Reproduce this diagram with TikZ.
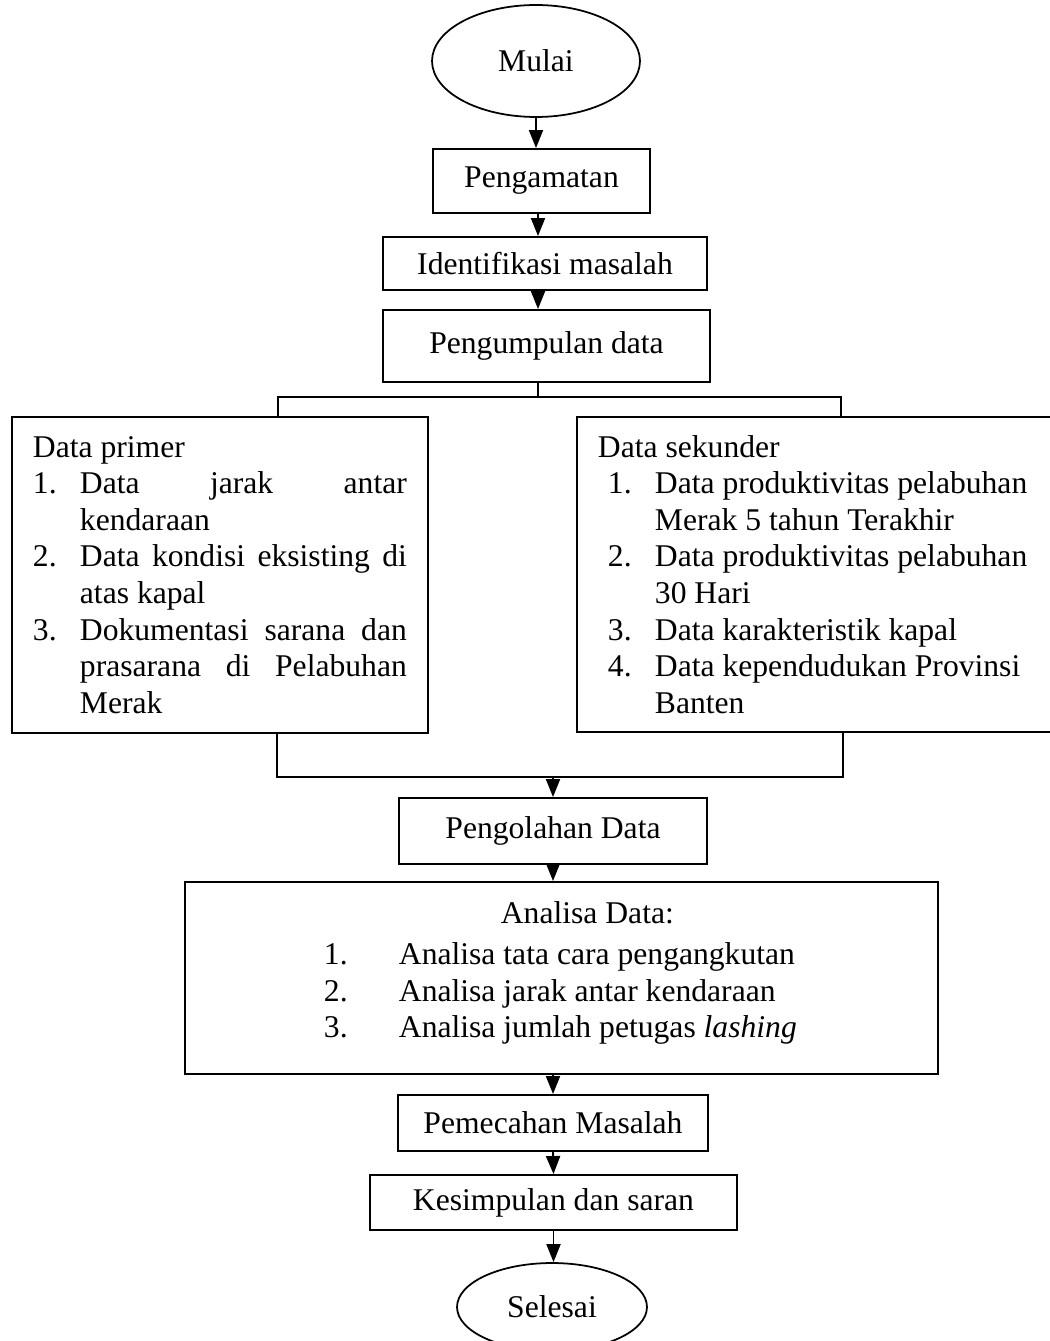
\documentclass[tikz,border=0pt]{standalone}
\usepackage{fontspec}
\setmainfont{Liberation Serif}
\usetikzlibrary{shapes.geometric,arrows.meta}

\begin{document}
\begin{tikzpicture}[x=0.02cm,y=-0.02cm,
  every node/.style={font=\fontsize{18pt}{20.8pt}\selectfont, inner sep=0pt},
  box/.style={draw, line width=1.1pt, rectangle},
  oval/.style={draw, line width=1pt, ellipse},
  link/.style={line width=1.1pt},
  flow/.style={line width=1.1pt, -{Triangle[length=0.36cm,width=0.28cm]}}]
\useasboundingbox (0,0) rectangle (1049,1341);
% upper chain
\node[oval, minimum width=4.16cm, minimum height=2.24cm] (mulai) at (536,61) {Mulai};
\node[box, minimum width=4.34cm, minimum height=1.28cm] (amat) at (541.5,181) {Pengamatan};
\node[box, minimum width=6.48cm, minimum height=1.06cm] (ident) at (545,263.5) {Identifikasi masalah};
\node[box, minimum width=6.54cm, minimum height=1.44cm] (kumpul) at (546.5,346) {Pengumpulan data};
\coordinate (split) at (538,397);
\draw[flow] (mulai.south) -- (mulai.south |- amat.north);
\draw[flow] (amat.south -| split) -- (ident.north -| split);
\draw[flow] (ident.south -| split) -- (kumpul.north -| split);
% data boxes
\node[box, anchor=north west, minimum height=6.32cm, text width=7.48cm, inner xsep=0.42cm] (primer) at (11,416) {\spaceskip=0pt\xspaceskip=0pt Data primer\\
\makebox[0.94cm][l]{1.}\makebox[6.54cm][s]{Data\hfill jarak\hfill antar}\\
\hspace*{0.94cm}kendaraan\\
\makebox[0.94cm][l]{2.}\makebox[6.54cm][s]{Data kondisi eksisting di}\\
\hspace*{0.94cm}atas kapal\\
\makebox[0.94cm][l]{3.}\makebox[6.54cm][s]{Dokumentasi sarana dan}\\
\hspace*{0.94cm}\makebox[6.54cm][s]{prasarana di Pelabuhan}\\
\hspace*{0.94cm}Merak};
\node[box, anchor=north west, minimum height=6.3cm, text width=9.16cm, inner xsep=0.42cm] (sekunder) at (576,416) {\spaceskip=0pt\xspaceskip=0pt Data sekunder\\
\hspace*{0.2cm}\makebox[0.94cm][l]{1.}Data produktivitas pelabuhan\\
\hspace*{1.14cm}Merak 5 tahun Terakhir\\
\hspace*{0.2cm}\makebox[0.94cm][l]{2.}Data produktivitas pelabuhan\\
\hspace*{1.14cm}30 Hari\\
\hspace*{0.2cm}\makebox[0.94cm][l]{3.}Data karakteristik kapal\\
\hspace*{0.2cm}\makebox[0.94cm][l]{4.}Data kependudukan Provinsi\\
\hspace*{1.14cm}Banten};
\coordinate (tl) at (278,397);
\coordinate (tr) at (841,397);
\draw[link] (kumpul.south -| split) -- (split);
\draw[link] (tl |- primer.north) -- (tl) -- (tr) -- (tr |- sekunder.north);
\coordinate (bl) at (277,777);
\coordinate (br) at (843,777);
\draw[link] (bl |- primer.south) -- (bl) -- (br) -- (br |- sekunder.south);
% lower chain
\node[box, minimum width=6.16cm, minimum height=1.32cm] (olah) at (553,831) {Pengolahan Data};
\draw[flow] (olah.north |- bl) -- (olah.north);
\node[box, anchor=north west, minimum height=3.84cm, text width=15.06cm] (analisa) at (184,881) {\spaceskip=0pt\xspaceskip=0pt\hspace*{6.32cm}Analisa Data:\\[2.5pt]
\hspace*{2.78cm}\makebox[1.5cm][l]{1.}Analisa tata cara pengangkutan\\
\hspace*{2.78cm}\makebox[1.5cm][l]{2.}Analisa jarak antar kendaraan\\
\hspace*{2.78cm}\makebox[1.5cm][l]{3.}Analisa jumlah petugas \textit{lashing}\\[-0.4cm]\mbox{}};
\draw[flow] (olah.south) -- (olah.south |- analisa.north);
\node[box, minimum width=6.2cm, minimum height=1.12cm] (pecah) at (553,1123) {Pemecahan Masalah};
\node[box, minimum width=7.34cm, minimum height=1.1cm] (simpul) at (553.5,1202.5) {Kesimpulan dan saran};
\node[oval, minimum width=3.8cm, minimum height=1.76cm] (selesai) at (552,1307) {Selesai};
\draw[flow] (pecah.north |- analisa.south) -- (pecah.north);
\draw[flow] (pecah.south) -- (simpul.north);
\draw[flow] (simpul.south) -- (simpul.south |- selesai.north);
\end{tikzpicture}
\end{document}
